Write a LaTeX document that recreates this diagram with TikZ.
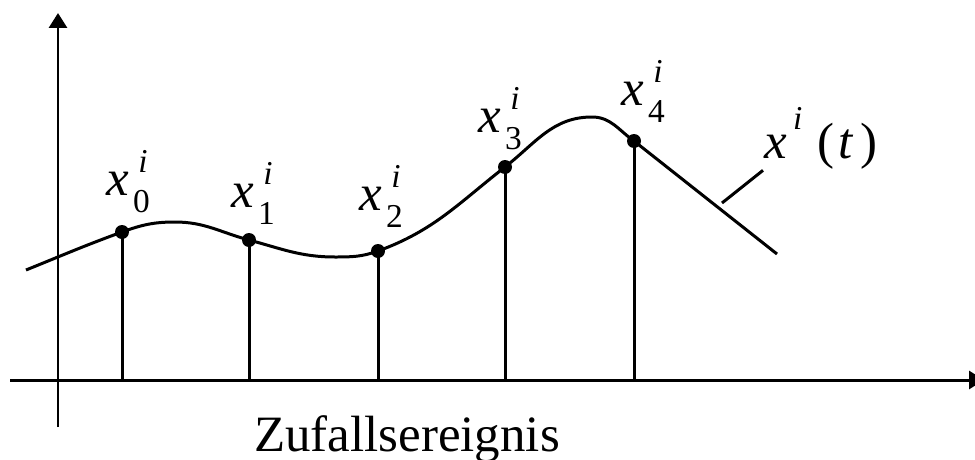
\documentclass[tikz,border=0pt]{standalone}
\usepackage{fontspec}
\setmainfont{Liberation Serif}
\usepackage{xcolor}
\usepackage{tikz}
\usetikzlibrary{arrows.meta}
\definecolor{ZLine}{HTML}{000000}
\newcommand\lblfont{\fontsize{29}{35}\selectfont}
\newcommand\idxfont{\fontsize{19}{23}\selectfont}
\newcommand\xsamp[1]{\textit{x}\kern0.08em\rlap{\kern0.1em\raisebox{0.45em}{\idxfont\textit{i}}}\raisebox{-0.34em}{\idxfont #1}}
\tikzset{axisline/.style={ZLine,line width=0.06cm,-{Triangle[length=0.30cm,width=0.36cm]}},
  sampdot/.style={ZLine},
  samplbl/.style={anchor=base west,inner sep=0pt,font=\lblfont}}

\begin{document}
\begin{tikzpicture}[x=0.02cm,y=-0.02cm,line width=0.06cm]
\path[use as bounding box] (0,0) rectangle (975,460);
\coordinate (yfoot) at (58,427);
\coordinate (ytip) at (58,13);
\coordinate (xfoot) at (10,380);
\coordinate (xtip) at (984,380);
\coordinate (p0) at (122,232);
\coordinate (p1) at (249,240);
\coordinate (p2) at (378,251);
\coordinate (p3) at (505,167);
\coordinate (p4) at (634,141);
\coordinate (lead) at (722,203);
\draw[axisline] (yfoot) -- (ytip);
\draw[axisline] (xfoot) -- (xtip);
\draw (p0) -- (p0 |- xfoot);
\draw (p1) -- (p1 |- xfoot);
\draw (p2) -- (p2 |- xfoot);
\draw (p3) -- (p3 |- xfoot);
\draw (p4) -- (p4 |- xfoot);
\draw (26,270) to[out=22,in=200] (p0) to[out=20,in=180] (175,222) to[out=0,in=165] (p1)
  to[out=-15,in=180] (335,257) to[out=0,in=200] (p2) to[out=20,in=218] (p3)
  to[out=38,in=180] (592,117) to[out=0,in=145] (p4) -- (777,254);
\fill[sampdot] (p0) circle (7);
\fill[sampdot] (p1) circle (7);
\fill[sampdot] (p2) circle (7);
\fill[sampdot] (p3) circle (7);
\fill[sampdot] (p4) circle (7);
\node[samplbl] (l0) at (105,195) {\xsamp{0}};
\node[samplbl] (l1) at (230,207) {\xsamp{1}};
\node[samplbl] (l2) at (358,210) {\xsamp{2}};
\node[samplbl] (l3) at (477,132) {\xsamp{3}};
\node[samplbl] (l4) at (620,105) {\xsamp{4}};
\node[samplbl] (traj) at (763,158) {\textit{x}\kern0.12em\raisebox{0.55em}{\idxfont\textit{i}}\kern0.3em(\kern0.08em\textit{t}\kern0.12em)};
\draw (lead) -- (traj.south west);
\node[anchor=base,inner sep=0pt,font=\lblfont] (event) at (407,451) {Zufallsereignis};
\end{tikzpicture}
\end{document}
